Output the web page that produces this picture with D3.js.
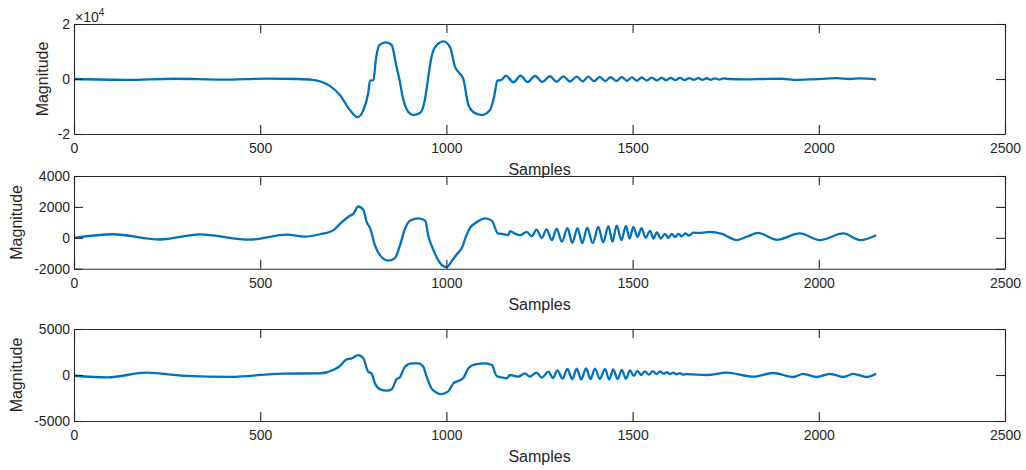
<!DOCTYPE html>
<html><head><meta charset="utf-8">
<script src="https://cdn.jsdelivr.net/npm/d3@7"></script>
<style>
html,body{margin:0;padding:0;background:#fff;}
text{font-family:"Liberation Sans",Arial,Helvetica,sans-serif;fill:#262626;}
</style></head>
<body><svg id="c" width="1026" height="470"></svg>
<script>
// ---- data (sample index, magnitude) ----
const xTicks = [0, 500, 1000, 1500, 2000, 2500];
const xTickLabels = ["0", "500", "1000", "1500", "2000", "2500"];

const p1YTicks = [-20000, 0, 20000];
const p1YTickLabels = ["-2", "0", "2"];
const p1Samples = [0,140,270,400,520,600,640,687,714,741,761,777,790,795,804,811,820,838,853,866,873,884,898,911,929,943,950,960,969,992,1010,1023,1035,1045,1059,1072,1095,1117,1128,1137,
 1148,1160,1180,1199,1218,1238,1258,1278,1296,1314,1332,1350,1366,1381,1397,1412,1427,1441,1456,1471,1485,1498,1511,1524,1538,1551,1565,1578,1590,1602,1615,1627,1640,1652,1664,1676,1688,1699,1710,1721,1733,1744,1760,1800,1851,1900,1941,1985,2048,2084,2111,2154];
const p1Values = [0,-300,100,-250,150,0,-300,-2500,-5800,-11300,-13900,-11300,-5200,-600,-400,7500,12300,13300,12300,4500,400,-7300,-12000,-13100,-12400,-6900,-600,8000,11500,13700,11500,4500,2100,250,-9400,-12000,-13100,-11300,-6500,-600,
 -300,1200,-1200,1200,-1150,1100,-1050,1000,-1000,950,-900,900,-850,850,-800,800,-750,700,-700,650,-650,600,-600,550,-550,500,-500,450,-450,400,-400,380,-380,350,-350,300,-300,280,-280,250,-250,200,0,-150,0,100,-300,-100,300,0,200,-100];

const p2YTicks = [-2000, 0, 2000, 4000];
const p2YTickLabels = ["-2000", "0", "2000", "4000"];
const p2Samples = [0,105,231,338,473,571,620,661,696,714,741,750,763,777,786,795,808,822,844,862,875,889,902,925,943,951,965,983,1001,1014,1028,1041,1054,1063,1081,1104,1122,1139,1144,1166,1171,1184,1198,1216,1229,1242,1256,1269,1283,1296,1310,1325,1338,1352,1365,1378,1393,1408,1421,1435,1446,1457,1470,1482,1492,1502,1513,1524,1535,1547,1556,1565,1576,1587,1596,1605,1614,1623,1632,1641,1652,1663,1680,1708,1740,1779,1810,1837,1887,1949,2003,2066,2111,2154];
const p2Values = [0,230,-110,220,-120,200,80,230,480,900,1430,1550,2025,1810,1010,630,-470,-1140,-1480,-1310,-510,590,1110,1260,1110,170,-780,-1630,-1900,-1520,-1060,-680,170,630,1010,1260,1110,270,270,170,430,270,170,380,100,525,0,550,-150,600,-250,620,-330,630,-350,650,-350,700,-300,750,-250,780,-150,770,-50,700,50,620,0,450,-50,350,-50,250,0,250,50,250,100,280,150,330,320,390,250,-150,100,320,-130,280,-150,280,-150,170];

const p3YTicks = [-5000, 0, 5000];
const p3YTickLabels = ["-5000", "0", "5000"];
const p3Samples = [0,90,195,300,420,560,661,696,714,732,746,763,777,790,799,808,822,839,853,866,875,889,907,925,938,947,960,974,987,1005,1019,1032,1045,1059,1077,1104,1122,1135,1148,1162,1171,1193,1211,1224,1242,1256,1274,1286,1298,1312,1325,1338,1350,1362,1375,1387,1399,1412,1426,1437,1448,1460,1471,1482,1493,1503,1513,1523,1533,1544,1554,1564,1574,1583,1592,1600,1609,1618,1627,1636,1645,1700,1752,1824,1878,1931,1958,1994,2030,2066,2092,2129,2154];
const p3Values = [-80,-250,250,-100,-200,150,180,540,980,1700,1810,2170,1810,360,180,-900,-1560,-1700,-1560,-470,-250,900,1270,1270,900,-180,-1450,-1920,-2070,-1780,-900,-650,-360,730,1160,1270,1090,-110,-250,-360,0,-180,180,-180,250,-290,360,-330,500,-400,650,-450,700,-480,720,-450,700,-430,650,-500,600,-450,550,-400,500,-100,450,0,400,50,420,100,380,150,300,100,250,80,200,50,100,0,250,-180,220,-220,130,-220,130,-220,130,-220,130];

// ---- layout ----
const left = 74, right = 1005;
const panels = [
  {top: 24, bottom: 134, domain: [-20000, 20000], ticks: p1YTicks, labels: p1YTickLabels, xs: p1Samples, ys: p1Values, exp: true},
  {top: 176, bottom: 268.7, domain: [-2000, 4000], ticks: p2YTicks, labels: p2YTickLabels, xs: p2Samples, ys: p2Values},
  {top: 329, bottom: 421, domain: [-5000, 5000], ticks: p3YTicks, labels: p3YTickLabels, xs: p3Samples, ys: p3Values}
];

const svg = d3.select("#c");
const axisColor = "#262626";
const tickLen = 9;

panels.forEach(p => {
  const x = d3.scaleLinear().domain([0, 2500]).range([left, right]);
  const y = d3.scaleLinear().domain(p.domain).range([p.bottom, p.top]);
  const g = svg.append("g");

  const id = "clip" + p.top;
  svg.append("clipPath").attr("id", id).append("rect")
    .attr("x", left).attr("y", p.top - 1).attr("width", right - left).attr("height", p.bottom - p.top + 2);

  const data = p.xs.map((s, i) => [s, p.ys[i]]);
  const line = d3.line().x(d => x(d[0])).y(d => y(d[1])).curve(d3.curveMonotoneX);
  g.append("path").datum(data).attr("d", line)
    .attr("fill", "none").attr("stroke", "#0072BD").attr("stroke-width", 2.3)
    .attr("stroke-linejoin", "round").attr("clip-path", `url(#${id})`);

  const axB = d3.axisBottom(x).tickValues(xTicks).tickSizeInner(-tickLen).tickSizeOuter(0).tickPadding(15)
    .tickFormat((d, i) => xTickLabels[i]);
  const axT = d3.axisTop(x).tickValues(xTicks).tickSizeInner(-tickLen).tickSizeOuter(0).tickFormat("");
  const axL = d3.axisLeft(y).tickValues(p.ticks).tickSizeInner(-tickLen).tickSizeOuter(0).tickPadding(4)
    .tickFormat((d, i) => p.labels[i]);
  const axR = d3.axisRight(y).tickValues(p.ticks).tickSizeInner(-tickLen).tickSizeOuter(0).tickFormat("");

  const gb = g.append("g").attr("transform", `translate(0,${p.bottom})`).call(axB);
  const gt = g.append("g").attr("transform", `translate(0,${p.top})`).call(axT);
  const gl = g.append("g").attr("transform", `translate(${left},0)`).call(axL);
  const gr = g.append("g").attr("transform", `translate(${right},0)`).call(axR);
  [gb, gt, gl, gr].forEach(a => {
    a.select(".domain").attr("stroke", axisColor).attr("stroke-width", 1.1);
    a.selectAll(".tick line").attr("stroke", axisColor).attr("stroke-width", 1.1);
    a.selectAll("text").attr("fill", axisColor).style("font-size", "14px");
  });
  gb.selectAll("text").attr("dy", "0.32em");

  g.append("text").attr("x", (left + right) / 2).attr("y", p.bottom + 41)
    .attr("text-anchor", "middle").style("font-size", "16px").text("Samples");

  const yl = p.exp ? 42 : 16;
  g.append("text").attr("transform", `translate(${yl},${(p.top + p.bottom) / 2}) rotate(-90)`)
    .attr("text-anchor", "middle").attr("dy", "0.35em").style("font-size", "16px").text("Magnitude");

  if (p.exp) {
    const t = g.append("text").attr("x", left + 1).attr("y", p.top - 2).style("font-size", "14px");
    t.append("tspan").text("\u00d710");
    t.append("tspan").attr("dy", -6).style("font-size", "10px").text("4");
  }
});
</script></body></html>
